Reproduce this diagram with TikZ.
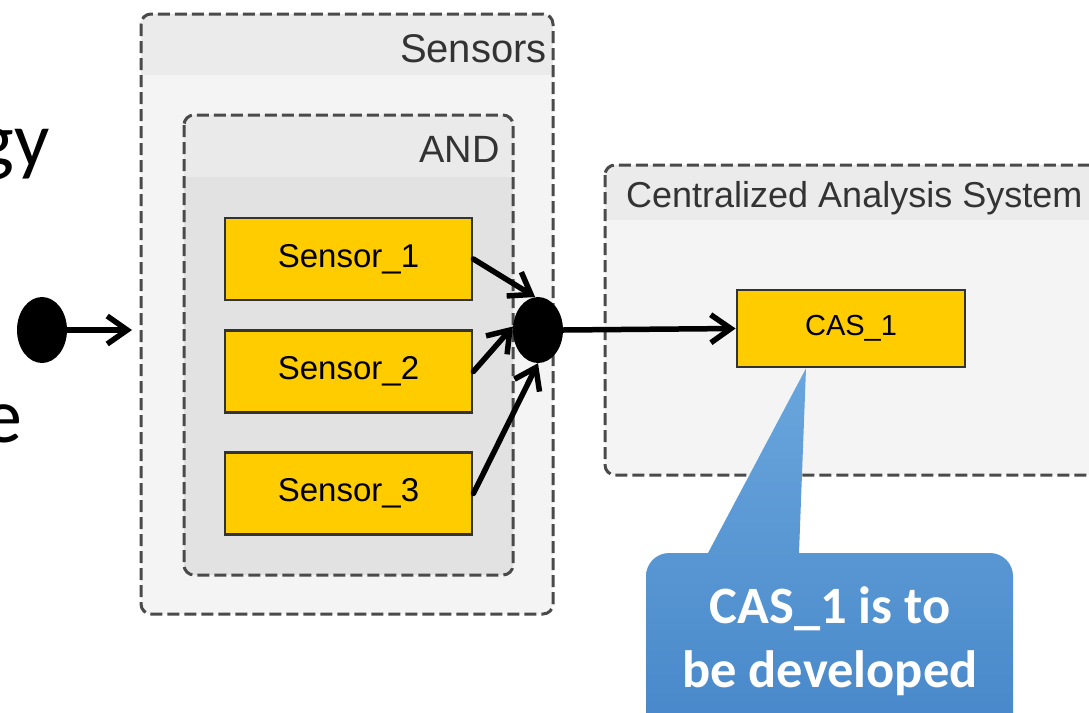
\documentclass[tikz,border=0pt]{standalone}
\usepackage{fontspec}
\setmainfont{Liberation Sans}
\newfontfamily\slidefont{Carlito}
\usetikzlibrary{arrows.meta,shapes.geometric}
\definecolor{hdrgray}{HTML}{EBEBEB}
\definecolor{bodygray}{HTML}{F4F4F4}
\definecolor{andbody}{HTML}{E2E2E2}
\definecolor{andhdr}{HTML}{EAEAEA}
\definecolor{gold}{HTML}{FFCC00}
\definecolor{dashgray}{HTML}{4A4A4A}
\definecolor{calltop}{HTML}{6AA6DD}
\definecolor{callbot}{HTML}{4787C9}
\begin{document}
\begin{tikzpicture}[x=1pt,y=-1pt,
  container/.style={draw=dashgray, line width=3pt, dash pattern=on 12pt off 5pt, rounded corners=10pt},
  blockbox/.style={draw=black!80, line width=2.8pt, fill=gold, minimum width=247pt, minimum height=82pt, inner sep=0pt, font=\fontsize{33}{40}\selectfont},
  dotnode/.style={ellipse, fill=black, minimum width=50pt, minimum height=66pt, inner sep=0pt},
  conn/.style={line width=5.5pt, line cap=round, -{Straight Barb[length=20pt,width=28pt,line width=5.5pt]}},
  lbl/.style={inner sep=0pt, text=black!80}
]
\useasboundingbox (0,0) rectangle (1089,712);
\clip (0,0) rectangle (1089,712);

% slide text fragments
\node[anchor=base east, inner sep=0pt, font=\slidefont\fontsize{78}{90}\selectfont] (slideA) at (50,166) {gy};
\node[anchor=base east, inner sep=0pt, font=\slidefont\fontsize{78}{90}\selectfont] (slideB) at (23,442) {e};

% Sensors container
\fill[bodygray, rounded corners=10pt] (141,14) rectangle (553,614);
\begin{scope}
  \clip[rounded corners=10pt] (141,14) rectangle (553,614);
  \fill[hdrgray] (141,14) rectangle (553,75);
\end{scope}
\draw[container] (141,14) rectangle (553,614);
\node[lbl, anchor=base east, font=\fontsize{40}{48}\selectfont] (sensorsLbl) at (547,62) {Sensors};

% AND container
\fill[andbody, rounded corners=10pt] (184,115) rectangle (513,575);
\begin{scope}
  \clip[rounded corners=10pt] (184,115) rectangle (513,575);
  \fill[andhdr] (184,115) rectangle (513,177);
\end{scope}
\draw[container] (184,115) rectangle (513,575);
\node[lbl, anchor=base east, font=\fontsize{38}{46}\selectfont] (andLbl) at (500,162) {AND};

% CAS container
\fill[bodygray, rounded corners=10pt] (605,165) rectangle (1110,475);
\begin{scope}
  \clip[rounded corners=10pt] (605,165) rectangle (1110,475);
  \fill[hdrgray] (605,165) rectangle (1110,220);
\end{scope}
\draw[container] (605,165) rectangle (1110,475);
\node[lbl, anchor=base west, font=\fontsize{36}{44}\selectfont] (casLbl) at (626,207) {Centralized Analysis System};

% blocks
\node[blockbox] (s1) at (348.5,259) {Sensor\_1};
\node[blockbox] (s2) at (348.5,371.5) {Sensor\_2};
\node[blockbox] (s3) at (348.5,493.5) {Sensor\_3};
\node[blockbox, minimum width=228pt, minimum height=77pt, font=\fontsize{29}{36}\selectfont] (cas) at (851,328.5) {CAS\_1};

% dots
\node[dotnode] (dotL) at (42,330) {};
\node[dotnode] (dotJ) at (538,330) {};
\coordinate (sIn) at (132,330);

% connectors
\draw[conn] (dotL.east) -- (sIn);
\draw[conn] (s1.east) -- (dotJ.95);
\draw[conn] (s2.east) -- (dotJ.172);
\draw[conn] (s3.east) -- (dotJ.270);
\draw[conn] (dotJ.east) -- (cas.west);

% callout
\coordinate (tailtip) at ([xshift=-45pt]cas.south);
\shade[top color=calltop, bottom color=callbot]
  (646,740) -- (646,576) .. controls (646,563.4) and (656.4,553) .. (669,553)
  -- (708,553) -- (tailtip) -- (799,553) -- (990,553)
  .. controls (1002.6,553) and (1013,563.4) .. (1013,576) -- (1013,740) -- cycle;
\node[anchor=base, inner sep=0pt, text=white, align=center, font=\slidefont\bfseries\fontsize{52.5}{64}\selectfont] (note) at (830,687) {CAS\_1 is to\\be developed};
\end{tikzpicture}
\end{document}
